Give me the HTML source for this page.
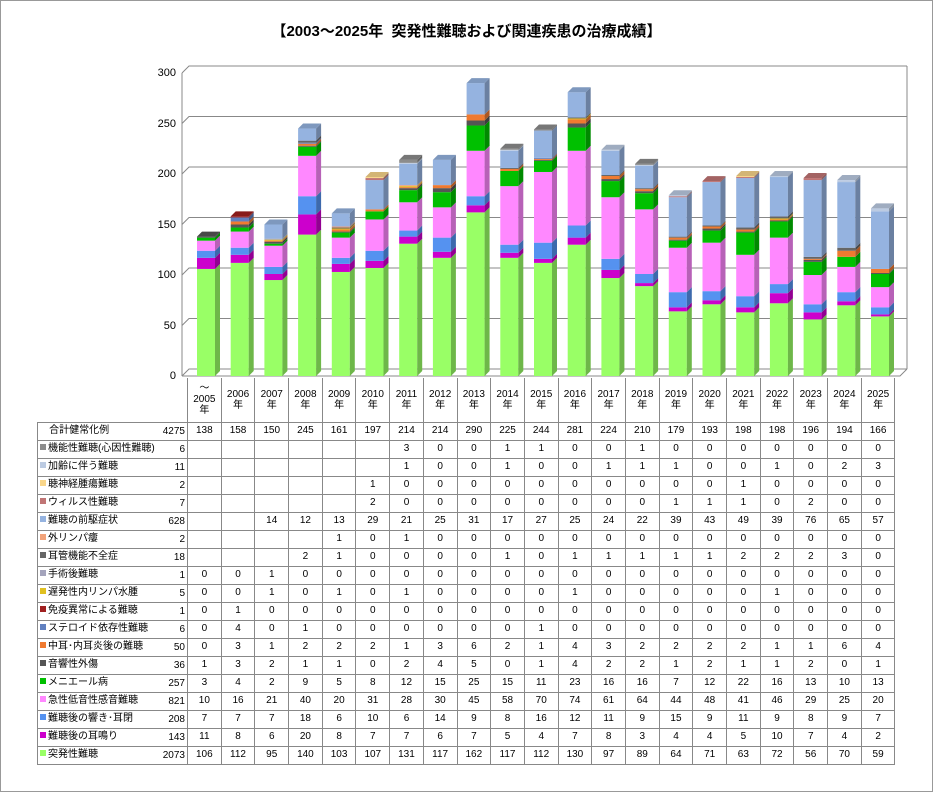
<!DOCTYPE html>
<html><head><meta charset="utf-8">
<style>
body{margin:0;background:#fff;}
#wrap{position:relative;width:933px;height:792px;overflow:hidden;font-family:"Liberation Sans","Noto Sans CJK JP",sans-serif;}
#frame{position:absolute;left:0;top:0;width:931px;height:790px;border:1px solid #999;}
#title{position:absolute;top:20px;left:0;width:933px;text-align:center;font-weight:bold;font-size:15px;color:#000;}
.yl{position:absolute;left:140px;width:36px;text-align:right;font-size:11px;color:#000;}
table{position:absolute;left:37px;top:378px;border-collapse:collapse;table-layout:fixed;font-size:10px;color:#000;}
td{border:1px solid #888;height:17px;padding:0;text-align:center;white-space:nowrap;overflow:visible;line-height:12px;box-sizing:border-box;}
td.l{text-align:left;position:relative;}
td.l span.t{position:absolute;right:2px;top:3px;}
.sq{display:inline-block;width:6px;height:6px;margin:0 2px 0 2px;vertical-align:1px;}
tr.h td{height:44px;line-height:11px;vertical-align:middle;font-size:10px;border-top:none;}
tr.h td.e{border:none;border-right:1px solid #888;}
tr:not(.h) td{height:18px;}
</style></head><body>
<div id="wrap">
<div id="frame"></div>
<div id="title">【2003～2025年&nbsp;&nbsp;突発性難聴および関連疾患の治療成績】</div>
<div class="yl" style="top:67px">300</div>
<div class="yl" style="top:118px">250</div>
<div class="yl" style="top:168px">200</div>
<div class="yl" style="top:219px">150</div>
<div class="yl" style="top:269px">100</div>
<div class="yl" style="top:320px">50</div>
<div class="yl" style="top:370px">0</div>
<svg id="ch" width="933" height="792" style="position:absolute;left:0;top:0"></svg>
<table>
<colgroup><col style="width:150px"><col span="21" style="width:33.7px"></colgroup>
<tr class="h"><td class="e"></td><td>～<br>2005<br>年</td><td>2006<br>年</td><td>2007<br>年</td><td>2008<br>年</td><td>2009<br>年</td><td>2010<br>年</td><td>2011<br>年</td><td>2012<br>年</td><td>2013<br>年</td><td>2014<br>年</td><td>2015<br>年</td><td>2016<br>年</td><td>2017<br>年</td><td>2018<br>年</td><td>2019<br>年</td><td>2020<br>年</td><td>2021<br>年</td><td>2022<br>年</td><td>2023<br>年</td><td>2024<br>年</td><td>2025<br>年</td></tr>
<tr><td class="l">&nbsp;&nbsp;&nbsp;&nbsp;合計健常化例<span class="t">4275</span></td><td>138</td><td>158</td><td>150</td><td>245</td><td>161</td><td>197</td><td>214</td><td>214</td><td>290</td><td>225</td><td>244</td><td>281</td><td>224</td><td>210</td><td>179</td><td>193</td><td>198</td><td>198</td><td>196</td><td>194</td><td>166</td></tr>
<tr><td class="l"><span class="sq" style="background:#8c8c8c"></span>機能性難聴(心因性難聴)<span class="t">6</span></td><td></td><td></td><td></td><td></td><td></td><td></td><td>3</td><td>0</td><td>0</td><td>1</td><td>1</td><td>0</td><td>0</td><td>1</td><td>0</td><td>0</td><td>0</td><td>0</td><td>0</td><td>0</td><td>0</td></tr>
<tr><td class="l"><span class="sq" style="background:#bccbe2"></span>加齢に伴う難聴<span class="t">11</span></td><td></td><td></td><td></td><td></td><td></td><td></td><td>1</td><td>0</td><td>0</td><td>1</td><td>0</td><td>0</td><td>1</td><td>1</td><td>1</td><td>0</td><td>0</td><td>1</td><td>0</td><td>2</td><td>3</td></tr>
<tr><td class="l"><span class="sq" style="background:#f9d68a"></span>聴神経腫瘍難聴<span class="t">2</span></td><td></td><td></td><td></td><td></td><td></td><td>1</td><td>0</td><td>0</td><td>0</td><td>0</td><td>0</td><td>0</td><td>0</td><td>0</td><td>0</td><td>0</td><td>1</td><td>0</td><td>0</td><td>0</td><td>0</td></tr>
<tr><td class="l"><span class="sq" style="background:#c07575"></span>ウィルス性難聴<span class="t">7</span></td><td></td><td></td><td></td><td></td><td></td><td>2</td><td>0</td><td>0</td><td>0</td><td>0</td><td>0</td><td>0</td><td>0</td><td>0</td><td>1</td><td>1</td><td>1</td><td>0</td><td>2</td><td>0</td><td>0</td></tr>
<tr><td class="l"><span class="sq" style="background:#95b3e0"></span>難聴の前駆症状<span class="t">628</span></td><td></td><td></td><td>14</td><td>12</td><td>13</td><td>29</td><td>21</td><td>25</td><td>31</td><td>17</td><td>27</td><td>25</td><td>24</td><td>22</td><td>39</td><td>43</td><td>49</td><td>39</td><td>76</td><td>65</td><td>57</td></tr>
<tr><td class="l"><span class="sq" style="background:#f2a37a"></span>外リンパ瘻<span class="t">2</span></td><td></td><td></td><td></td><td></td><td>1</td><td>0</td><td>1</td><td>0</td><td>0</td><td>0</td><td>0</td><td>0</td><td>0</td><td>0</td><td>0</td><td>0</td><td>0</td><td>0</td><td>0</td><td>0</td><td>0</td></tr>
<tr><td class="l"><span class="sq" style="background:#666"></span>耳管機能不全症<span class="t">18</span></td><td></td><td></td><td></td><td>2</td><td>1</td><td>0</td><td>0</td><td>0</td><td>0</td><td>1</td><td>0</td><td>1</td><td>1</td><td>1</td><td>1</td><td>1</td><td>2</td><td>2</td><td>2</td><td>3</td><td>0</td></tr>
<tr><td class="l"><span class="sq" style="background:#a4a4bc"></span>手術後難聴<span class="t">1</span></td><td>0</td><td>0</td><td>1</td><td>0</td><td>0</td><td>0</td><td>0</td><td>0</td><td>0</td><td>0</td><td>0</td><td>0</td><td>0</td><td>0</td><td>0</td><td>0</td><td>0</td><td>0</td><td>0</td><td>0</td><td>0</td></tr>
<tr><td class="l"><span class="sq" style="background:#e0c020"></span>遅発性内リンパ水腫<span class="t">5</span></td><td>0</td><td>0</td><td>1</td><td>0</td><td>1</td><td>0</td><td>1</td><td>0</td><td>0</td><td>0</td><td>0</td><td>1</td><td>0</td><td>0</td><td>0</td><td>0</td><td>0</td><td>1</td><td>0</td><td>0</td><td>0</td></tr>
<tr><td class="l"><span class="sq" style="background:#a02020"></span>免疫異常による難聴<span class="t">1</span></td><td>0</td><td>1</td><td>0</td><td>0</td><td>0</td><td>0</td><td>0</td><td>0</td><td>0</td><td>0</td><td>0</td><td>0</td><td>0</td><td>0</td><td>0</td><td>0</td><td>0</td><td>0</td><td>0</td><td>0</td><td>0</td></tr>
<tr><td class="l"><span class="sq" style="background:#6080c0"></span>ステロイド依存性難聴<span class="t">6</span></td><td>0</td><td>4</td><td>0</td><td>1</td><td>0</td><td>0</td><td>0</td><td>0</td><td>0</td><td>0</td><td>1</td><td>0</td><td>0</td><td>0</td><td>0</td><td>0</td><td>0</td><td>0</td><td>0</td><td>0</td><td>0</td></tr>
<tr><td class="l"><span class="sq" style="background:#f07a30"></span>中耳･内耳炎後の難聴<span class="t">50</span></td><td>0</td><td>3</td><td>1</td><td>2</td><td>2</td><td>2</td><td>1</td><td>3</td><td>6</td><td>2</td><td>1</td><td>4</td><td>3</td><td>2</td><td>2</td><td>2</td><td>2</td><td>1</td><td>1</td><td>6</td><td>4</td></tr>
<tr><td class="l"><span class="sq" style="background:#555"></span>音響性外傷<span class="t">36</span></td><td>1</td><td>3</td><td>2</td><td>1</td><td>1</td><td>0</td><td>2</td><td>4</td><td>5</td><td>0</td><td>1</td><td>4</td><td>2</td><td>2</td><td>1</td><td>2</td><td>1</td><td>1</td><td>2</td><td>0</td><td>1</td></tr>
<tr><td class="l"><span class="sq" style="background:#00c000"></span>メニエール病<span class="t">257</span></td><td>3</td><td>4</td><td>2</td><td>9</td><td>5</td><td>8</td><td>12</td><td>15</td><td>25</td><td>15</td><td>11</td><td>23</td><td>16</td><td>16</td><td>7</td><td>12</td><td>22</td><td>16</td><td>13</td><td>10</td><td>13</td></tr>
<tr><td class="l"><span class="sq" style="background:#ff88ff"></span>急性低音性感音難聴<span class="t">821</span></td><td>10</td><td>16</td><td>21</td><td>40</td><td>20</td><td>31</td><td>28</td><td>30</td><td>45</td><td>58</td><td>70</td><td>74</td><td>61</td><td>64</td><td>44</td><td>48</td><td>41</td><td>46</td><td>29</td><td>25</td><td>20</td></tr>
<tr><td class="l"><span class="sq" style="background:#5592f0"></span>難聴後の響き･耳閉<span class="t">208</span></td><td>7</td><td>7</td><td>7</td><td>18</td><td>6</td><td>10</td><td>6</td><td>14</td><td>9</td><td>8</td><td>16</td><td>12</td><td>11</td><td>9</td><td>15</td><td>9</td><td>11</td><td>9</td><td>8</td><td>9</td><td>7</td></tr>
<tr><td class="l"><span class="sq" style="background:#cc00cc"></span>難聴後の耳鳴り<span class="t">143</span></td><td>11</td><td>8</td><td>6</td><td>20</td><td>8</td><td>7</td><td>7</td><td>6</td><td>7</td><td>5</td><td>4</td><td>7</td><td>8</td><td>3</td><td>4</td><td>4</td><td>5</td><td>10</td><td>7</td><td>4</td><td>2</td></tr>
<tr><td class="l"><span class="sq" style="background:#99ff66"></span>突発性難聴<span class="t">2073</span></td><td>106</td><td>112</td><td>95</td><td>140</td><td>103</td><td>107</td><td>131</td><td>117</td><td>162</td><td>117</td><td>112</td><td>130</td><td>97</td><td>89</td><td>64</td><td>71</td><td>63</td><td>72</td><td>56</td><td>70</td><td>59</td></tr>
</table>
</div>
<script>
var S=[
["#99ff66",[106,112,95,140,103,107,131,117,162,117,112,130,97,89,64,71,63,72,56,70,59]],
["#cc00cc",[11,8,6,20,8,7,7,6,7,5,4,7,8,3,4,4,5,10,7,4,2]],
["#5592f0",[7,7,7,18,6,10,6,14,9,8,16,12,11,9,15,9,11,9,8,9,7]],
["#ff88ff",[10,16,21,40,20,31,28,30,45,58,70,74,61,64,44,48,41,46,29,25,20]],
["#00c000",[3,4,2,9,5,8,12,15,25,15,11,23,16,16,7,12,22,16,13,10,13]],
["#555555",[1,3,2,1,1,0,2,4,5,0,1,4,2,2,1,2,1,1,2,0,1]],
["#f07a30",[0,3,1,2,2,2,1,3,6,2,1,4,3,2,2,2,2,1,1,6,4]],
["#6080c0",[0,4,0,1,0,0,0,0,0,0,1,0,0,0,0,0,0,0,0,0,0]],
["#a02020",[0,1,0,0,0,0,0,0,0,0,0,0,0,0,0,0,0,0,0,0,0]],
["#e0c020",[0,0,1,0,1,0,1,0,0,0,0,1,0,0,0,0,0,1,0,0,0]],
["#a4a4bc",[0,0,1,0,0,0,0,0,0,0,0,0,0,0,0,0,0,0,0,0,0]],
["#666666",[0,0,0,2,1,0,0,0,0,1,0,1,1,1,1,1,2,2,2,3,0]],
["#f2a37a",[0,0,0,0,1,0,1,0,0,0,0,0,0,0,0,0,0,0,0,0,0]],
["#95b3e0",[0,0,14,12,13,29,21,25,31,17,27,25,24,22,39,43,49,39,76,65,57]],
["#c07575",[0,0,0,0,0,2,0,0,0,0,0,0,0,0,1,1,1,0,2,0,0]],
["#f9d68a",[0,0,0,0,0,1,0,0,0,0,0,0,0,0,0,0,1,0,0,0,0]],
["#bccbe2",[0,0,0,0,0,0,1,0,0,1,0,0,1,1,1,0,0,1,0,2,3]],
["#8c8c8c",[0,0,0,0,0,0,3,0,0,1,1,0,0,1,0,0,0,0,0,0,0]]];
function dk(c,f){var n=parseInt(c.slice(1),16);var r=(n>>16)*f|0,g=((n>>8)&255)*f|0,b=(n&255)*f|0;return"rgb("+r+","+g+","+b+")";}
var h='';var Y0=376,K=1.01,D=7,d=5;
for(var v=0;v<=300;v+=50){var y=Y0-v*K;h+='<polyline points="182,'+y+' '+(182+D)+','+(y-D)+' 907,'+(y-D)+'" fill="none" stroke="#888" stroke-width="1"/>';}
h+='<line x1="182" y1="'+(Y0-303)+'" x2="182" y2="'+Y0+'" stroke="#888"/>';
h+='<line x1="907" y1="'+(Y0-303-D)+'" x2="907" y2="'+(Y0-D)+'" stroke="#888"/>';
h+='<polyline points="182,'+Y0+' 900,'+Y0+' 907,'+(Y0-D)+'" fill="none" stroke="#888"/>';
for(var i=0;i<21;i++){var x=196+i*33.7+1,w=18,base=Y0,tc=null;
 for(var s=0;s<S.length;s++){var v=S[s][1][i];if(!v)continue;var hh=v*K,y=base-hh,c=S[s][0];
  h+='<rect x="'+x+'" y="'+y+'" width="'+w+'" height="'+hh+'" fill="'+c+'"/>';
  h+='<polygon points="'+(x+w)+','+y+' '+(x+w+d)+','+(y-d)+' '+(x+w+d)+','+(base-d)+' '+(x+w)+','+base+'" fill="'+dk(c,0.72)+'"/>';
  base=y;tc=c;}
 h+='<polygon points="'+x+','+base+' '+(x+w)+','+base+' '+(x+w+d)+','+(base-d)+' '+(x+d)+','+(base-d)+'" fill="'+dk(tc,0.85)+'"/>';}
document.getElementById('ch').innerHTML=h;
</script>
</body></html>
